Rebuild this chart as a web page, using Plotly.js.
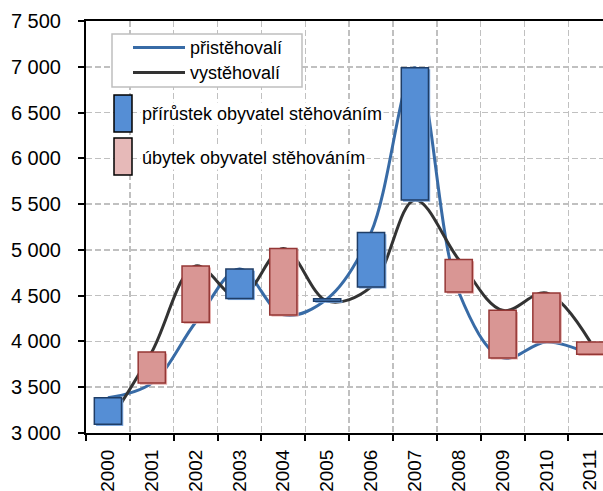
<!DOCTYPE html>
<html><head><meta charset="utf-8">
<script src="https://cdn.plot.ly/plotly-3.0.1.min.js"></script>
<style>html,body{margin:0;padding:0;overflow:hidden;background:#fff}</style>
</head><body><div id="chart" style="width:603px;height:491px"></div>
<script>
const years = ['2000','2001','2002','2003','2004','2005','2006','2007','2008','2009','2010','2011'];
const immigrants = [3385, 3545, 4210, 4790, 4290, 4465, 5190, 6990, 4540, 3820, 3995, 3860];
const emigrants  = [3095, 3885, 4825, 4470, 5015, 4440, 4595, 5545, 4895, 4340, 4530, 3995];
const seriesNames = ['přistěhovalí', 'vystěhovalí'];
const barNames = ['přírůstek obyvatel stěhováním', 'úbytek obyvatel stěhováním'];

// plot area in pixels (used only to place the legend decorations)
const L = 86, T = 21, W = 517, H = 412;
const px = x => (x - L) / W;
const py = y => 1 - (y - T) / H;

const gainBase = [], gainVal = [], lossBase = [], lossVal = [];
years.forEach((y, i) => {
  const a = immigrants[i], b = emigrants[i];
  if (a >= b) { gainBase.push(b); gainVal.push(a - b); lossBase.push(null); lossVal.push(null); }
  else { lossBase.push(a); lossVal.push(b - a); gainBase.push(null); gainVal.push(null); }
});
const shadowShift = 18;
const sh = arr => arr.map(v => v === null ? null : v - shadowShift);

const BW = 0.62;
const traces = [
  {x: years, y: immigrants, name: seriesNames[0], type: 'scatter', mode: 'lines', showlegend: false,
   line: {color: '#386ba6', width: 3, shape: 'spline', smoothing: 1}},
  {x: years, y: emigrants, name: seriesNames[1], type: 'scatter', mode: 'lines', showlegend: false,
   line: {color: '#333333', width: 3, shape: 'spline', smoothing: 1}},
  // soft shadows of the boxes
  {x: years, y: gainVal, base: sh(gainBase), type: 'bar', showlegend: false, hoverinfo: 'skip',
   xaxis: 'x2', yaxis: 'y2', width: BW, offset: -BW / 2 + 0.04,
   marker: {color: '#7aa6de', line: {width: 0}}},
  {x: years, y: lossVal, base: sh(lossBase), type: 'bar', showlegend: false, hoverinfo: 'skip',
   xaxis: 'x2', yaxis: 'y2', width: BW, offset: -BW / 2 + 0.04,
   marker: {color: '#e5aeac', line: {width: 0}}},
  {x: years, y: gainVal, base: gainBase, type: 'bar', name: barNames[0], showlegend: false,
   xaxis: 'x2', yaxis: 'y2', width: BW, offset: -BW / 2,
   marker: {color: '#558ed5', line: {color: '#1f3d66', width: 1.5}}},
  {x: years, y: lossVal, base: lossBase, type: 'bar', name: barNames[1], showlegend: false,
   xaxis: 'x2', yaxis: 'y2', width: BW, offset: -BW / 2,
   marker: {color: '#d99694', line: {color: '#953735', width: 1.5}}}
];

const xr = [-0.5, 11.29], yr = [3000, 7500];
const gridDash = '6px,3px';
const layout = {
  width: 603, height: 491,
  margin: {l: L, r: 0, t: T, b: 491 - T - H},
  paper_bgcolor: '#fff', plot_bgcolor: '#fff',
  separators: ', ',
  font: {family: 'Liberation Sans, Arial, sans-serif', color: '#000'},
  barmode: 'overlay',
  showlegend: false,
  xaxis: {type: 'category', range: xr, tickson: 'boundaries', ticks: 'outside', ticklen: 6,
    tickwidth: 2, tickcolor: '#000', ticklabelstandoff: 7,
    showgrid: true, gridcolor: '#c0c0c0', griddash: gridDash, gridwidth: 1.5,
    showline: true, linecolor: '#000', linewidth: 2, mirror: true,
    tickangle: -90, tickfont: {size: 19, color: '#000'}, fixedrange: true},
  yaxis: {range: yr, dtick: 500, tick0: 3000, tickformat: ',d', ticks: 'outside', ticklen: 6,
    tickwidth: 2, tickcolor: '#000', ticklabelstandoff: 13,
    showgrid: true, gridcolor: '#c0c0c0', griddash: gridDash, gridwidth: 1.5,
    showline: true, linecolor: '#000', linewidth: 2, zeroline: false,
    tickfont: {size: 20, color: '#000'}, fixedrange: true},
  xaxis2: {type: 'category', range: xr, overlaying: 'x', visible: false, fixedrange: true},
  yaxis2: {range: yr, overlaying: 'y', visible: false, fixedrange: true},
  shapes: [
    // legend frame and line samples
    {type: 'rect', xref: 'paper', yref: 'paper', x0: px(112), x1: px(302), y0: py(87), y1: py(34),
     fillcolor: '#fff', line: {color: '#bfbfbf', width: 1.5}},
    {type: 'line', xref: 'paper', yref: 'paper', x0: px(133), x1: px(185), y0: py(47.5), y1: py(47.5),
     line: {color: '#386ba6', width: 3}},
    {type: 'line', xref: 'paper', yref: 'paper', x0: px(133), x1: px(185), y0: py(72.5), y1: py(72.5),
     line: {color: '#333333', width: 3}},
    // box legend icons
    {type: 'rect', xref: 'paper', yref: 'paper', x0: px(114), x1: px(132), y0: py(132), y1: py(95),
     fillcolor: '#558ed5', line: {color: '#000', width: 1.5}},
    {type: 'rect', xref: 'paper', yref: 'paper', x0: px(114), x1: px(132), y0: py(175), y1: py(138),
     fillcolor: '#e6b9b8', line: {color: '#000', width: 1.5}}
  ],
  annotations: [
    {xref: 'paper', yref: 'paper', x: px(188), y: py(47.5), xanchor: 'left', yanchor: 'middle',
     text: seriesNames[0], showarrow: false, font: {size: 18, color: '#000'}},
    {xref: 'paper', yref: 'paper', x: px(188), y: py(72.5), xanchor: 'left', yanchor: 'middle',
     text: seriesNames[1], showarrow: false, font: {size: 18, color: '#000'}},
    {xref: 'paper', yref: 'paper', x: px(140), y: py(114), xanchor: 'left', yanchor: 'middle',
     text: barNames[0], showarrow: false, font: {size: 18, color: '#000'}, bgcolor: '#fff'},
    {xref: 'paper', yref: 'paper', x: px(140), y: py(158), xanchor: 'left', yanchor: 'middle',
     text: barNames[1], showarrow: false, font: {size: 18, color: '#000'}, bgcolor: '#fff'}
  ]
};
Plotly.newPlot('chart', traces, layout, {displayModeBar: false, staticPlot: true});
</script></body></html>
